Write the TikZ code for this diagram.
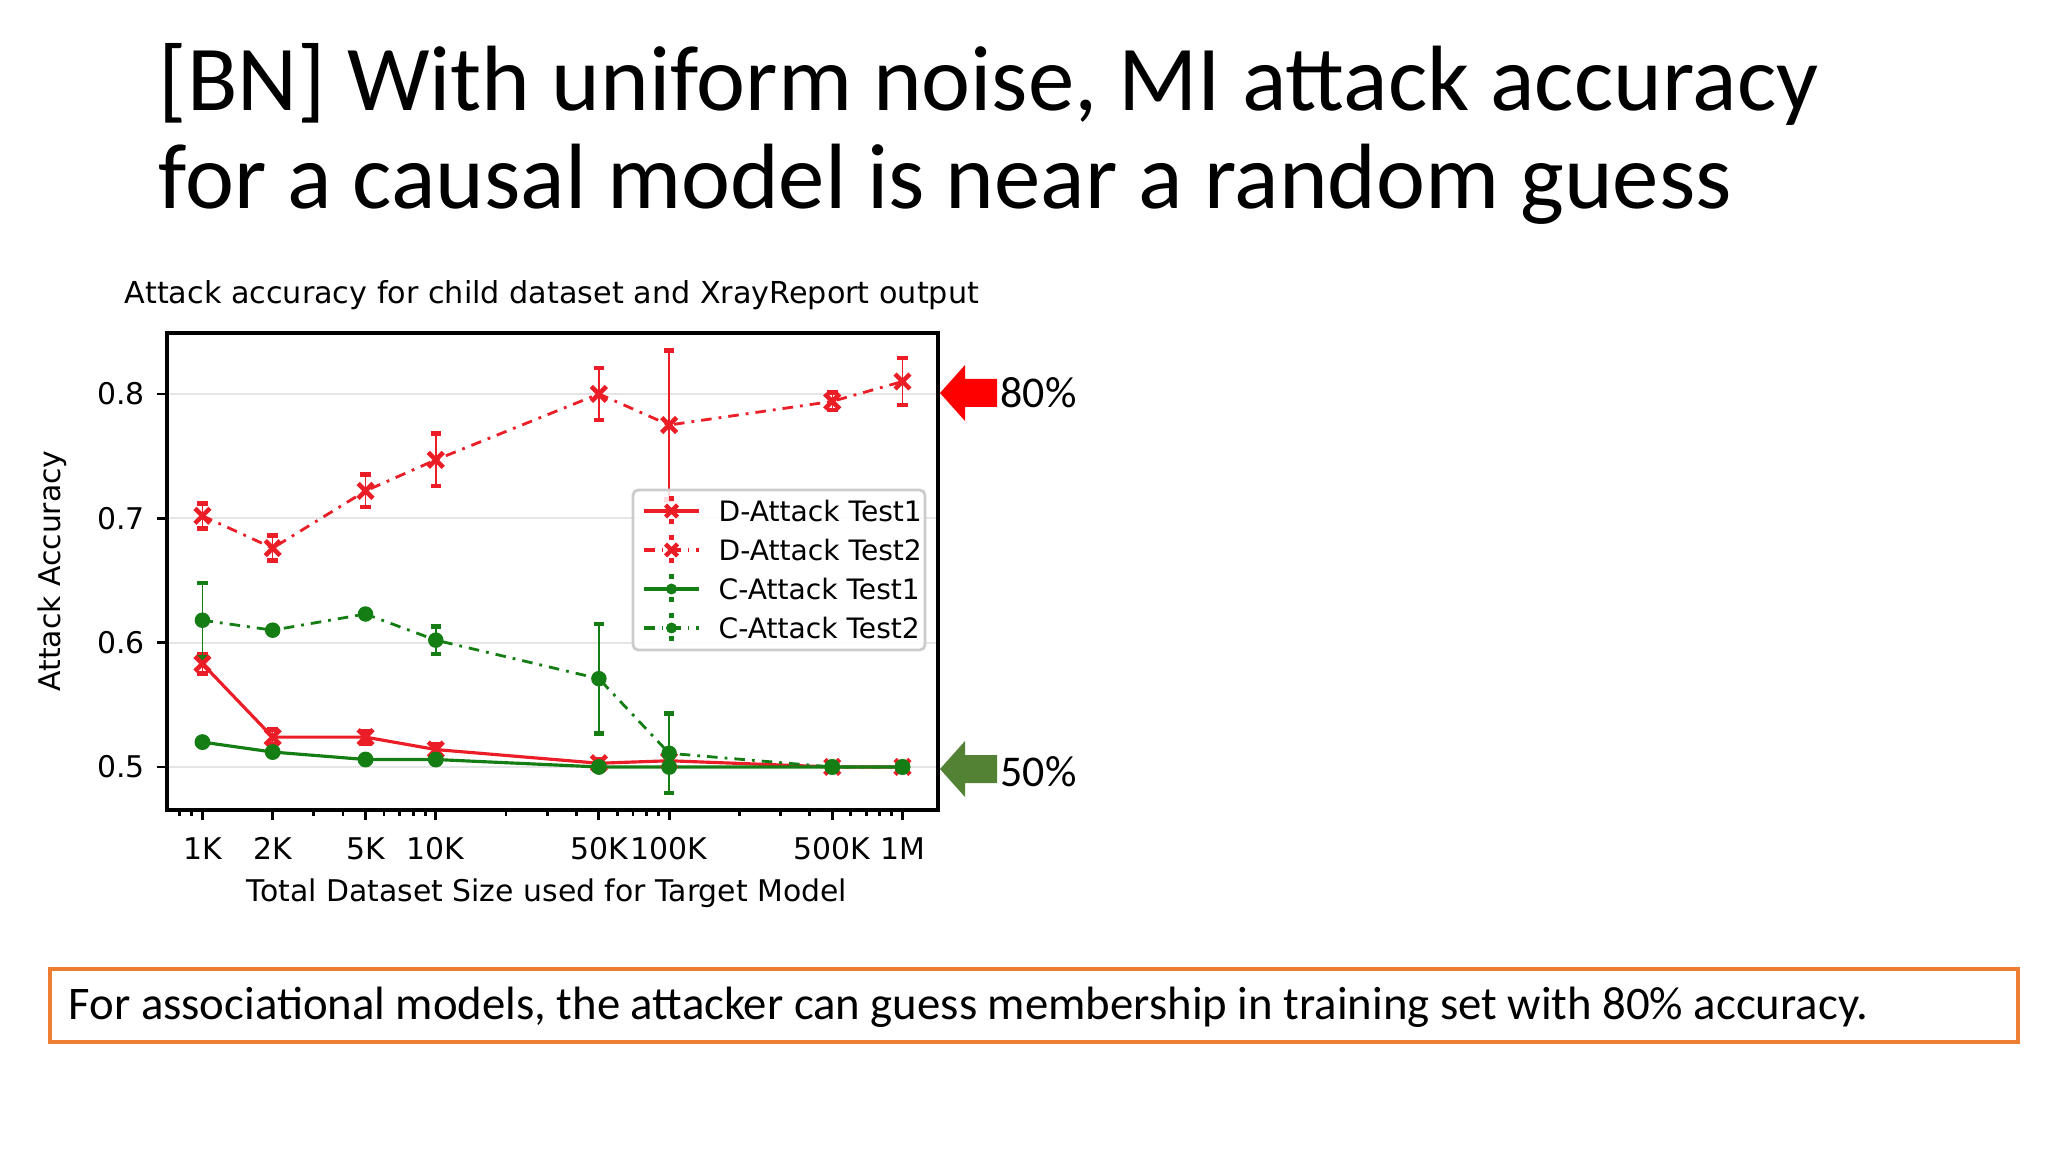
\documentclass[tikz,border=0pt]{standalone}
\usepackage{fontspec}
\setmainfont{Carlito}
\newfontfamily\plotfont{DejaVu Sans}
\usepackage{pgfplots}
\pgfplotsset{compat=1.18}
\definecolor{pred}{RGB}{235,30,40}
\definecolor{pgreen}{RGB}{20,125,20}
\definecolor{agreen}{RGB}{84,130,53}
\definecolor{orangebox}{RGB}{237,125,49}
\begin{document}
\begin{tikzpicture}[x=1cm,y=1cm]
\useasboundingbox[fill=white] (0,0) rectangle (20.48,-11.52);
\node[anchor=base west,font=\fontsize{26.4}{32}\selectfont,align=left,inner sep=0pt] (title1) at (1.58,-1.11) {[BN] With uniform noise, MI attack accuracy};
\node[anchor=base west,font=\fontsize{26.4}{32}\selectfont,align=left,inner sep=0pt] (title2) at (1.58,-2.09) {for a causal model is near a random guess};
\begin{axis}[at={(1.67cm,-8.10cm)}, anchor=south west, scale only axis,
  width=7.71cm, height=4.77cm, xmode=log, xmin=705, xmax=1.42e6, ymin=0.4654, ymax=0.849,
  ytick={0.5,0.6,0.7,0.8}, yticklabels={0.5,0.6,0.7,0.8},
  xtick={1000,2000,5000,10000,50000,100000,500000,1000000},
  xticklabels={1K,2K,5K,10K,50K,100K,500K,1M},
  minor xtick={800,900,3000,4000,6000,7000,8000,9000,20000,30000,40000,60000,70000,80000,90000,200000,300000,400000,600000,700000,800000,900000},
  tick align=outside, xtick pos=bottom, ytick pos=left,
  major tick length=0.1cm, minor tick length=0.06cm,
  every tick/.style={black,line width=0.8pt},
  ymajorgrids, grid style={gray!20,line width=0.6pt},
  axis line style={line width=1.3pt},
  tick label style={font=\plotfont\fontsize{8.5}{10}\selectfont},
  xticklabel style={yshift=-0.05cm},
  clip=false]
\addplot[pred,line width=0.9pt,mark=x,mark size=3pt,mark options={line width=1.3pt},error bars/.cd,y dir=both,y explicit,error mark options={pred,line width=1.3pt,mark size=1.5pt,rotate=90}] coordinates {
(1000,0.583)+-(0,0.008) (2000,0.524)+-(0,0.006) (5000,0.524)+-(0,0.005) (10000,0.514)+-(0,0.004) (50000,0.503)+-(0,0.003) (100000,0.505)+-(0,0.003) (500000,0.500)+-(0,0.002) (1000000,0.500)+-(0,0.002)};
\addplot[pred,line width=0.8pt,dash dot,mark=x,mark size=3pt,mark options={solid,line width=1.3pt},error bars/.cd,y dir=both,y explicit,error bar style={solid},error mark options={pred,line width=1.3pt,mark size=1.5pt,rotate=90}] coordinates {
(1000,0.702)+-(0,0.010) (2000,0.676)+-(0,0.010) (5000,0.722)+-(0,0.013) (10000,0.747)+-(0,0.021) (50000,0.800)+-(0,0.021) (100000,0.775)+-(0,0.060) (500000,0.794)+-(0,0.007) (1000000,0.810)+-(0,0.019)};
\addplot[pgreen,line width=0.9pt,mark=*,mark size=1.8pt,error bars/.cd,y dir=both,y explicit,error mark options={pgreen,line width=1.3pt,mark size=1.5pt,rotate=90}] coordinates {
(1000,0.520)+-(0,0.002) (2000,0.512)+-(0,0.003) (5000,0.506)+-(0,0.002) (10000,0.506)+-(0,0.003) (50000,0.500)+-(0,0.002) (100000,0.500)+-(0,0.002) (500000,0.500)+-(0,0.001) (1000000,0.500)+-(0,0.001)};
\addplot[pgreen,line width=0.8pt,dash dot,mark=*,mark size=1.8pt,mark options={solid},error bars/.cd,y dir=both,y explicit,error bar style={solid},error mark options={pgreen,line width=1.3pt,mark size=1.5pt,rotate=90}] coordinates {
(1000,0.618)+-(0,0.030) (2000,0.610)+-(0,0.002) (5000,0.623)+-(0,0.002) (10000,0.602)+-(0,0.011) (50000,0.571)+-(0,0.044) (100000,0.511)+-(0,0.032) (500000,0.500)+-(0,0.001) (1000000,0.500)+-(0,0.001)};
\end{axis}
\node[font=\plotfont\fontsize{8.6}{10}\selectfont] (ptitle) at (5.52,-2.95) {Attack accuracy for child dataset and XrayReport output};
\node[font=\plotfont\fontsize{8.5}{10}\selectfont] (xlab) at (5.47,-8.93) {Total Dataset Size used for Target Model};
\node[font=\plotfont\fontsize{8.5}{10}\selectfont,rotate=90] (ylab) at (0.52,-5.71) {Attack Accuracy};
% legend
\draw[gray!40,fill=white,fill opacity=0.85,rounded corners=1.5pt,line width=0.8pt] (6.33,-4.90) rectangle (9.25,-6.50);
\foreach \yy/\cc/\dd/\lab in {-5.11/pred/solid/D-Attack Test1,-5.50/pred/dash dot/D-Attack Test2,-5.89/pgreen/solid/C-Attack Test1,-6.28/pgreen/dash dot/C-Attack Test2}{
  \draw[\cc,\dd,line width=0.9pt] (6.44,\yy) -- (6.99,\yy);
  \draw[\cc,line width=1.3pt,dotted] (6.715,\yy+0.15) -- (6.715,\yy-0.15);
  \node[anchor=west,font=\plotfont\fontsize{8.0}{10}\selectfont,inner sep=0pt] at (7.18,\yy) {\lab};
}
\foreach \yy in {-5.11,-5.50}{
  \draw[pred,line width=1.3pt] (6.655,\yy-0.06) -- (6.775,\yy+0.06) (6.655,\yy+0.06) -- (6.775,\yy-0.06);
}
\foreach \yy in {-5.89,-6.28}{
  \fill[pgreen] (6.715,\yy) circle (0.055);
}
% arrows
\fill[red] (9.40,-3.93) -- (9.65,-3.65) -- (9.65,-3.79) -- (9.97,-3.79) -- (9.97,-4.07) -- (9.65,-4.07) -- (9.65,-4.21) -- cycle;
\node[anchor=west,font=\fontsize{12.5}{15}\selectfont,inner sep=0pt] (p80) at (10.0,-3.93) {80\%};
\fill[agreen] (9.40,-7.69) -- (9.65,-7.41) -- (9.65,-7.55) -- (9.97,-7.55) -- (9.97,-7.83) -- (9.65,-7.83) -- (9.65,-7.97) -- cycle;
\node[anchor=west,font=\fontsize{12.5}{15}\selectfont,inner sep=0pt] (p50) at (10.0,-7.72) {50\%};
% bottom box
\draw[orangebox,line width=1.2pt] (0.50,-9.69) rectangle (20.18,-10.42);
\node[anchor=west,font=\fontsize{13.3}{16}\selectfont,inner sep=0pt] (note) at (0.68,-10.07) {For associational models, the attacker can guess membership in training set with 80\% accuracy.};
\end{tikzpicture}
\end{document}
